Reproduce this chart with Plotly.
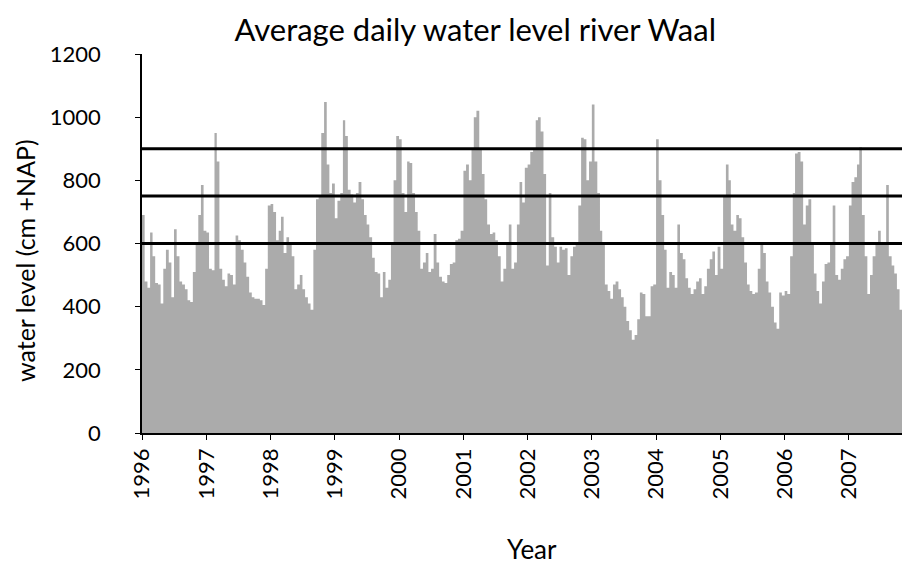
import pandas as pd
import plotly.graph_objects as go

# semi-monthly water levels (cm +NAP)
level_1996 = [690, 480, 460, 635, 560, 475, 470, 410, 520, 580, 540, 430,
              645, 560, 480, 470, 455, 420, 415, 510, 600, 690, 785, 640]
level_1997 = [635, 520, 515, 950, 860, 520, 485, 465, 505, 500, 470, 625,
              610, 580, 540, 495, 445, 430, 425, 425, 420, 405, 520, 720]
level_1998 = [725, 700, 610, 640, 685, 570, 620, 600, 560, 455, 470, 500,
              455, 430, 410, 390, 580, 740, 750, 950, 1048, 850, 760, 790]
level_1999 = [680, 735, 760, 990, 940, 770, 755, 730, 760, 795, 740, 690,
              660, 620, 555, 510, 505, 430, 510, 460, 485, 600, 800, 940]
level_2000 = [930, 760, 700, 860, 855, 760, 700, 640, 520, 540, 570, 510,
              520, 630, 540, 495, 480, 475, 500, 535, 540, 610, 615, 640]
level_2001 = [830, 850, 800, 900, 1000, 1020, 900, 820, 740, 660, 630, 635,
              610, 560, 480, 520, 600, 660, 520, 540, 660, 795, 730, 840]
level_2002 = [850, 890, 900, 990, 1000, 955, 820, 530, 760, 620, 590, 540,
              590, 580, 585, 500, 560, 590, 605, 720, 935, 930, 800, 860]
level_2003 = [1040, 860, 760, 640, 605, 470, 450, 425, 470, 480, 455, 430,
              400, 355, 325, 295, 310, 360, 445, 440, 370, 370, 465, 470]
level_2004 = [930, 800, 690, 580, 460, 510, 500, 460, 660, 570, 550, 490,
              460, 440, 455, 480, 490, 440, 465, 520, 550, 575, 500, 590]
level_2005 = [520, 750, 850, 800, 660, 640, 690, 680, 620, 540, 470, 450,
              440, 445, 520, 605, 570, 480, 445, 400, 350, 330, 445, 435]
level_2006 = [450, 440, 560, 760, 885, 890, 860, 660, 720, 740, 600, 505,
              450, 410, 480, 535, 540, 600, 720, 500, 485, 520, 550, 560]
level_2007 = [720, 795, 810, 850, 905, 690, 560, 440, 500, 560, 600, 640,
              600, 600, 785, 560, 530, 505, 455, 390, 610, 860, 870, 870]

years = list(range(1996, 2008))
thresholds = [600, 750, 900]

levels = (level_1996 + level_1997 + level_1998 + level_1999 + level_2000 + level_2001
          + level_2002 + level_2003 + level_2004 + level_2005 + level_2006 + level_2007)

# start of each half month
dates = []
for y in years:
    for m in range(1, 13):
        dates.append(pd.Timestamp(y, m, 1))
        dates.append(pd.Timestamp(y, m, 16))

fig = go.Figure()
fig.add_trace(go.Scatter(x=dates, y=levels, mode='lines', line_shape='hv',
                         line=dict(width=0, color='#ABABAB'),
                         fill='tozeroy', fillcolor='#ABABAB'))

for t in thresholds:
    fig.add_shape(type='line', xref='paper', x0=0, x1=1, y0=t, y1=t,
                  line=dict(color='black', width=3))

# axis titles as annotations so they sit where the reference has them
fig.add_annotation(text='water level (cm +NAP)', textangle=-90, xref='paper', yref='paper',
                   x=-0.153, y=0.456, xanchor='center', yanchor='middle',
                   showarrow=False, font=dict(size=25))
fig.add_annotation(text='Year', xref='paper', yref='paper', x=0.509, y=-0.306,
                   xanchor='center', yanchor='middle', showarrow=False, font=dict(size=26))

# page body adds an 8px offset, margins compensate
fig.update_layout(
    width=902, height=559,
    margin=dict(l=134, r=2, t=46, b=134),
    plot_bgcolor='white', paper_bgcolor='white',
    font=dict(family='Lato', size=22, color='black'),
    title=dict(text='Average daily water level river Waal', x=0.518, xanchor='center',
               y=0.96, yanchor='middle', font=dict(size=31)),
    showlegend=False,
)
fig.update_xaxes(type='date', range=['1996-01-01', '2007-12-03'], automargin=False,
                 tickformat='%Y', dtick='M12', tick0='1996-01-01', tickangle=-90,
                 tickfont=dict(size=22),
                 ticks='outside', ticklen=5, tickcolor='black',
                 showline=True, linecolor='black', linewidth=1.5, showgrid=False)
fig.update_yaxes(range=[0, 1200], dtick=200, ticks='outside', ticklen=5, automargin=False,
                 ticklabelstandoff=30,
                 tickcolor='black', showline=True, linecolor='black', linewidth=1.5,
                 showgrid=False, zeroline=False)

fig.write_html("out.html")
